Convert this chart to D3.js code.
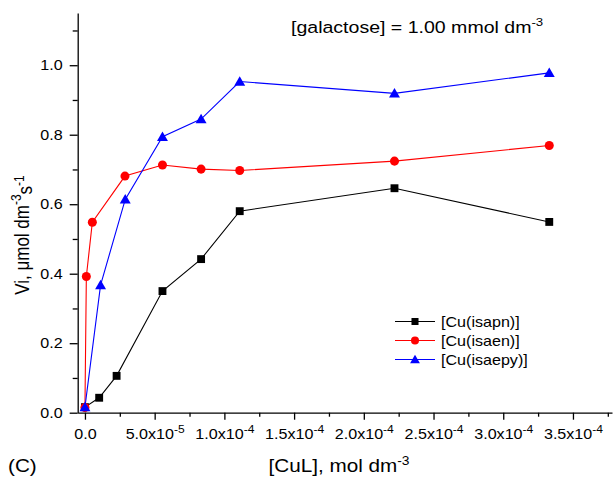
<!DOCTYPE html>
<html>
<head>
  <meta charset="utf-8">
  <style>
    body {
      margin: 0;
      background: #fff;
      font-family: Arial, "Liberation Sans", Helvetica, sans-serif;
    }
    svg text {
      fill: #000;
    }
  </style>
</head>
<body>
  <div id="chart"></div>
  <script src="https://d3js.org/d3.v7.min.js"></script>
  <script>

    // DATA
    var seriesNames = ['[Cu(isapn)]', '[Cu(isaen)]', '[Cu(isaepy)]'];

    var isapnX = [0, 1.02e-5, 2.27e-5, 5.56e-5, 8.33e-5, 1.11e-4, 2.22e-4, 3.33e-4];
    var isapnY = [0.016, 0.043, 0.106, 0.350, 0.442, 0.580, 0.646, 0.549];

    var isaenX = [0, 1.0e-6, 5.3e-6, 2.87e-5, 5.56e-5, 8.33e-5, 1.11e-4, 2.22e-4, 3.33e-4];
    var isaenY = [0.015, 0.392, 0.548, 0.681, 0.713, 0.701, 0.697, 0.724, 0.769];

    var isaepyX = [0, 1.12e-5, 2.89e-5, 5.56e-5, 8.33e-5, 1.11e-4, 2.22e-4, 3.33e-4];
    var isaepyY = [0.016, 0.367, 0.614, 0.794, 0.845, 0.953, 0.919, 0.978];

    var xMajorTicks = [0, 5e-5, 1e-4, 1.5e-4, 2e-4, 2.5e-4, 3e-4, 3.5e-4];
    var xMinorTicks = [2.5e-5, 7.5e-5, 1.25e-4, 1.75e-4, 2.25e-4, 2.75e-4, 3.25e-4, 3.75e-4];
    var yMajorTicks = [0, 0.2, 0.4, 0.6, 0.8, 1.0];
    var yMinorTicks = [0.1, 0.3, 0.5, 0.7, 0.9, 1.1];

    var series = [
      { name: seriesNames[0], xs: isapnX, ys: isapnY, color: '#000000', symbol: d3.symbolSquare, size: 62 },
      { name: seriesNames[1], xs: isaenX, ys: isaenY, color: '#ff0000', symbol: d3.symbolCircle, size: 64 },
      { name: seriesNames[2], xs: isaepyX, ys: isaepyY, color: '#0000ff', symbol: d3.symbolTriangle, size: 52 }
    ];

    // the picture is a bit wider than tall, so text is stretched sideways
    var STRETCH = 1.15;

    // LAYOUT
    var width = 613;
    var height = 483;

    var svg = d3.select('#chart')
      .append('svg')
        .attr('width', width)
        .attr('height', height);

    var x = d3.scaleLinear()
      .domain([-5.2e-6, 3.78e-4])
      .range([77.7, 612]);

    var y = d3.scaleLinear()
      .domain([0, 1.15])
      .range([412.7, 13.1]);

    // writes text made of normal and superscript parts
    function richText(sel, parts, supSize) {
      parts.forEach(function(p) {
        var t = sel.append('tspan').text(p.t);
        if (p.sup) {
          t.attr('font-size', supSize).attr('dy', '-0.55em');
        } else if (p.after) {
          t.attr('dy', '0.55em');
        }
      });
    }

    // moves x/y into a transform so the text can be widened in place
    function stretchText(sel) {
      sel.each(function() {
        var t = d3.select(this);
        var tx = +t.attr('x') || 0;
        var ty = +t.attr('y') || 0;
        t.attr('x', null).attr('y', null)
          .attr('transform', 'translate(' + tx + ',' + ty + ') scale(' + STRETCH + ',1)');
      });
    }

    function sciParts(v) {
      if (v === 0) return [{ t: '0.0' }];
      var exp = Math.floor(Math.log10(v));
      var mant = v / Math.pow(10, exp);
      return [{ t: mant.toFixed(1) + 'x10' }, { t: String(exp), sup: true }];
    }

    // AXES
    var xAxis = svg.append('g')
      .attr('transform', 'translate(0,' + y(0) + ')');

    xAxis.append('g')
      .call(d3.axisBottom(x).tickValues(xMinorTicks).tickSize(4).tickFormat(''))
      .call(function(g) { g.select('.domain').remove(); });

    var xMajor = xAxis.append('g')
      .call(d3.axisBottom(x).tickValues(xMajorTicks).tickSize(7).tickSizeOuter(0).tickPadding(9).tickFormat(''));

    xMajor.selectAll('.tick').each(function(d) {
      var t = d3.select(this).select('text')
        .attr('font-size', 14)
        .attr('font-family', 'Arial, "Liberation Sans", sans-serif');
      richText(t, sciParts(d), 10.5);
    });
    stretchText(xMajor.selectAll('.tick text'));

    var yAxis = svg.append('g')
      .attr('transform', 'translate(' + x.range()[0] + ',0)');

    yAxis.append('g')
      .call(d3.axisLeft(y).tickValues(yMinorTicks).tickSize(5).tickFormat(''))
      .call(function(g) { g.select('.domain').remove(); });

    var yMajor = yAxis.append('g')
      .call(d3.axisLeft(y).tickValues(yMajorTicks).tickSize(8).tickSizeOuter(0).tickPadding(7).tickFormat(d3.format('.1f')));

    yMajor.selectAll('text')
      .attr('font-size', 14)
      .attr('font-family', 'Arial, "Liberation Sans", sans-serif');
    stretchText(yMajor.selectAll('text'));

    svg.selectAll('.domain, .tick line')
      .attr('stroke', '#000')
      .attr('stroke-width', 1.3);

    // SERIES
    var line = d3.line()
      .x(function(d) { return x(d[0]); })
      .y(function(d) { return y(d[1]); });

    var plot = svg.append('g');

    series.forEach(function(s) {
      var pts = s.xs.map(function(v, i) { return [v, s.ys[i]]; });

      plot.append('path')
        .attr('d', line(pts))
        .attr('fill', 'none')
        .attr('stroke', s.color)
        .attr('stroke-width', 1.1);
    });

    series.forEach(function(s) {
      var pts = s.xs.map(function(v, i) { return [v, s.ys[i]]; });
      var sym = d3.symbol().type(s.symbol).size(s.size);

      plot.selectAll(null)
        .data(pts)
        .enter()
          .append('path')
            .attr('d', sym)
            .attr('fill', s.color)
            .attr('transform', function(d) {
              var dy = s.symbol === d3.symbolTriangle ? 1 : 0;
              return 'translate(' + x(d[0]) + ',' + (y(d[1]) + dy) + ')';
            });
    });

    // LEGEND
    var legend = svg.append('g')
      .attr('transform', 'translate(395,321.5)');

    series.forEach(function(s, i) {
      var row = legend.append('g')
        .attr('transform', 'translate(0,' + (i * 19) + ')');

      row.append('line')
        .attr('x1', 0)
        .attr('x2', 40)
        .attr('stroke', s.color)
        .attr('stroke-width', 1.1);

      row.append('path')
        .attr('d', d3.symbol().type(s.symbol).size(s.size * 0.8))
        .attr('fill', s.color)
        .attr('transform', 'translate(20,' + (s.symbol === d3.symbolTriangle ? 1 : 0) + ')');

      row.append('text')
        .attr('x', 46)
        .attr('y', 5)
        .attr('font-size', 14)
        .text(s.name)
        .call(stretchText);
    });

    // TITLES
    var note = svg.append('text')
      .attr('x', 291)
      .attr('y', 32.5)
      .attr('font-size', 17);
    richText(note, [{ t: '[galactose] = 1.00 mmol dm' }, { t: '-3', sup: true }], 11.5);
    stretchText(note);

    var xTitle = svg.append('text')
      .attr('x', 339)
      .attr('y', 472)
      .attr('text-anchor', 'middle')
      .attr('font-size', 18);
    richText(xTitle, [{ t: '[CuL], mol dm' }, { t: '-3', sup: true }], 12);
    stretchText(xTitle);

    var yTitle = svg.append('text')
      .attr('transform', 'translate(28.5,235) rotate(-90) scale(1,' + STRETCH + ')')
      .attr('text-anchor', 'middle')
      .attr('font-size', 17);
    richText(yTitle, [
      { t: 'Vi, \u03bcmol dm' },
      { t: '-3', sup: true },
      { t: 's', after: true },
      { t: '-1', sup: true }
    ], 12);

    svg.append('text')
      .attr('x', 8)
      .attr('y', 472)
      .attr('font-size', 18)
      .text('(C)')
      .call(stretchText);

  </script>
</body>
</html>
